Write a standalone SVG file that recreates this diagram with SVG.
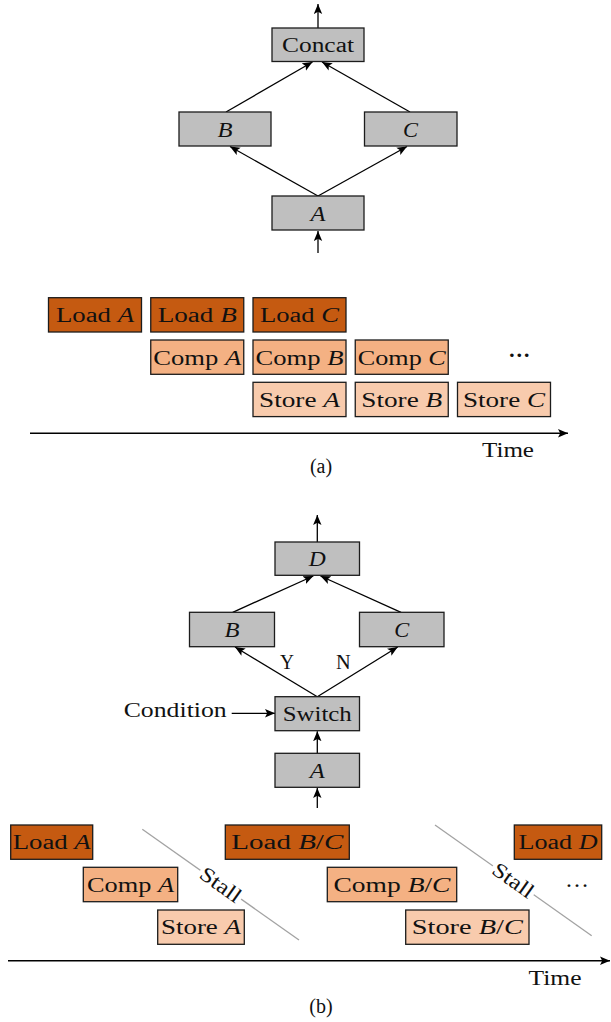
<svg xmlns="http://www.w3.org/2000/svg" width="611" height="1022" viewBox="0 0 611 1022">
<style>
  rect.b { stroke:#1c1c1c; stroke-width:1.3; }
  .g { fill:#BFBFBF; }
  .ld { fill:#C55A11; }
  .cp { fill:#F4B183; }
  .st { fill:#F8CBAD; }
  text { font-family:"Liberation Serif","Times New Roman",serif; font-size:20px; fill:#111; }
  .m { text-anchor:middle; }
  .i { font-style:italic; }
  .L { font-size:22px; }
  .e { stroke:#000; stroke-width:1.3; fill:none; }
  .ax { stroke:#000; stroke-width:1.4; fill:none; }
  .stall { stroke:#A3A3A3; stroke-width:1.3; fill:none; }
</style>
<defs>
  <marker id="ah" viewBox="-10 -4.5 10 9" refX="0" refY="0" markerWidth="10" markerHeight="9" markerUnits="userSpaceOnUse" orient="auto">
    <path d="M0,0 L-10,-4.2 L-7.8,0 L-10,4.2 Z" fill="#000"/>
  </marker>
</defs>

<!-- ========== (a) graph ========== -->
<g id="connectors-a">
  <line class="e" x1="318" y1="28" x2="318" y2="4" marker-end="url(#ah)"/>
  <line class="e" x1="226" y1="112" x2="312.5" y2="62" marker-end="url(#ah)"/>
  <line class="e" x1="410" y1="112" x2="322" y2="62" marker-end="url(#ah)"/>
  <line class="e" x1="318" y1="196" x2="230" y2="146.5" marker-end="url(#ah)"/>
  <line class="e" x1="318" y1="196" x2="407" y2="146.5" marker-end="url(#ah)"/>
  <line class="e" x1="318" y1="253" x2="318" y2="231" marker-end="url(#ah)"/>
</g>
<g id="a-concat">
  <rect class="b g" x="272" y="28" width="92" height="33.5"/>
  <text class="m" x="318" y="52" textLength="72" lengthAdjust="spacingAndGlyphs">Concat</text>
</g>
<g id="a-B">
  <rect class="b g" x="179" y="112" width="92" height="34"/>
  <text class="m i L" x="225" y="137" textLength="15" lengthAdjust="spacingAndGlyphs">B</text>
</g>
<g id="a-C">
  <rect class="b g" x="364.5" y="112" width="92.5" height="34"/>
  <text class="m i L" x="410.5" y="137" textLength="15" lengthAdjust="spacingAndGlyphs">C</text>
</g>
<g id="a-A">
  <rect class="b g" x="272" y="196" width="92" height="34"/>
  <text class="m i L" x="318" y="220.5" textLength="15" lengthAdjust="spacingAndGlyphs">A</text>
</g>

<!-- ========== (a) pipeline ========== -->
<g id="a-loadA"><rect class="b ld" x="48.5" y="297.7" width="93" height="34.3"/><text class="m" x="95" y="322.3" textLength="78" lengthAdjust="spacingAndGlyphs">Load <tspan class="i">A</tspan></text></g>
<g id="a-loadB"><rect class="b ld" x="150.75" y="297.7" width="93" height="34.3"/><text class="m" x="197.25" y="322.3" textLength="79" lengthAdjust="spacingAndGlyphs">Load <tspan class="i">B</tspan></text></g>
<g id="a-loadC"><rect class="b ld" x="253" y="297.7" width="93" height="34.3"/><text class="m" x="299.5" y="322.3" textLength="79" lengthAdjust="spacingAndGlyphs">Load <tspan class="i">C</tspan></text></g>

<g id="a-compA"><rect class="b cp" x="150.75" y="340" width="93" height="34.3"/><text class="m" x="197.25" y="364.6" textLength="88" lengthAdjust="spacingAndGlyphs">Comp <tspan class="i">A</tspan></text></g>
<g id="a-compB"><rect class="b cp" x="253" y="340" width="93" height="34.3"/><text class="m" x="299.5" y="364.6" textLength="88" lengthAdjust="spacingAndGlyphs">Comp <tspan class="i">B</tspan></text></g>
<g id="a-compC"><rect class="b cp" x="355.25" y="340" width="93" height="34.3"/><text class="m" x="401.75" y="364.6" textLength="88" lengthAdjust="spacingAndGlyphs">Comp <tspan class="i">C</tspan></text></g>

<g id="a-storeA"><rect class="b st" x="253" y="382.3" width="93" height="34.3"/><text class="m" x="299.5" y="406.9" textLength="81" lengthAdjust="spacingAndGlyphs">Store <tspan class="i">A</tspan></text></g>
<g id="a-storeB"><rect class="b st" x="355.25" y="382.3" width="93" height="34.3"/><text class="m" x="401.75" y="406.9" textLength="81" lengthAdjust="spacingAndGlyphs">Store <tspan class="i">B</tspan></text></g>
<g id="a-storeC"><rect class="b st" x="457.5" y="382.3" width="93" height="34.3"/><text class="m" x="504" y="406.9" textLength="82" lengthAdjust="spacingAndGlyphs">Store <tspan class="i">C</tspan></text></g>

<text class="m" x="519.3" y="356.5" style="font-size:22px;font-weight:bold">…</text>
<g id="axis-a">
  <line class="ax" x1="30" y1="433.3" x2="568" y2="433.3" marker-end="url(#ah)"/>
</g>
<text class="m" x="508" y="456.7" textLength="52" lengthAdjust="spacingAndGlyphs">Time</text>
<text class="m" x="321" y="473">(a)</text>

<!-- ========== (b) graph ========== -->
<g id="connectors-b">
  <line class="e" x1="317.3" y1="542" x2="317.3" y2="515" marker-end="url(#ah)"/>
  <line class="e" x1="232.7" y1="612.3" x2="313.3" y2="576" marker-end="url(#ah)"/>
  <line class="e" x1="401" y1="612.3" x2="320.5" y2="576" marker-end="url(#ah)"/>
  <line class="e" x1="317.3" y1="696.7" x2="235" y2="647" marker-end="url(#ah)"/>
  <line class="e" x1="317.3" y1="696.7" x2="397.7" y2="647" marker-end="url(#ah)"/>
  <line class="e" x1="231.7" y1="713.3" x2="275" y2="713.3" marker-end="url(#ah)"/>
  <line class="e" x1="317.3" y1="753.3" x2="317.3" y2="731.2" marker-end="url(#ah)"/>
  <line class="e" x1="317.3" y1="808" x2="317.3" y2="788" marker-end="url(#ah)"/>
</g>
<text class="m" x="287" y="669.3" textLength="14" lengthAdjust="spacingAndGlyphs">Y</text>
<text class="m" x="343.3" y="669.3" textLength="14.7" lengthAdjust="spacingAndGlyphs">N</text>
<text x="226.7" y="716.7" style="text-anchor:end" textLength="103" lengthAdjust="spacingAndGlyphs">Condition</text>

<g id="b-D">
  <rect class="b g" x="275" y="542" width="84.5" height="33.3"/>
  <text class="m i L" x="317.3" y="566" textLength="17" lengthAdjust="spacingAndGlyphs">D</text>
</g>
<g id="b-B">
  <rect class="b g" x="189.5" y="612.3" width="85" height="34.4"/>
  <text class="m i L" x="232" y="637" textLength="15" lengthAdjust="spacingAndGlyphs">B</text>
</g>
<g id="b-C">
  <rect class="b g" x="359.5" y="612.3" width="84.5" height="34.4"/>
  <text class="m i L" x="401.7" y="637" textLength="15" lengthAdjust="spacingAndGlyphs">C</text>
</g>
<g id="b-switch">
  <rect class="b g" x="275" y="696.7" width="84.5" height="34"/>
  <text class="m" x="317.3" y="721" textLength="69" lengthAdjust="spacingAndGlyphs">Switch</text>
</g>
<g id="b-A">
  <rect class="b g" x="275" y="753.3" width="84.5" height="34"/>
  <text class="m i L" x="317.3" y="777.5" textLength="15" lengthAdjust="spacingAndGlyphs">A</text>
</g>

<!-- ========== (b) pipeline ========== -->
<g id="stall-1">
  <line class="stall" x1="142.3" y1="829.3" x2="299" y2="940"/>
  <g transform="translate(220.7,884.7) rotate(35.3)">
    <rect x="-25" y="-9" width="50" height="18" fill="#fff"/>
    <text class="m" x="0" y="7" style="font-size:21px" textLength="46" lengthAdjust="spacingAndGlyphs">Stall</text>
  </g>
</g>
<g id="stall-2">
  <line class="stall" x1="435" y1="825" x2="591.7" y2="935.7"/>
  <g transform="translate(513.3,880.3) rotate(35.3)">
    <rect x="-25" y="-9" width="50" height="18" fill="#fff"/>
    <text class="m" x="0" y="7" style="font-size:21px" textLength="46" lengthAdjust="spacingAndGlyphs">Stall</text>
  </g>
</g>

<g id="b-loadA"><rect class="b ld" x="10.7" y="825" width="82" height="34.3"/><text class="m" x="51.7" y="849.2" textLength="78" lengthAdjust="spacingAndGlyphs">Load <tspan class="i">A</tspan></text></g>
<g id="b-compA"><rect class="b cp" x="83.3" y="867.3" width="94.4" height="34.4"/><text class="m" x="130.5" y="891.5" textLength="87" lengthAdjust="spacingAndGlyphs">Comp <tspan class="i">A</tspan></text></g>
<g id="b-storeA"><rect class="b st" x="157.7" y="910" width="86.6" height="34.3"/><text class="m" x="201" y="934.2" textLength="80" lengthAdjust="spacingAndGlyphs">Store <tspan class="i">A</tspan></text></g>
<g id="b-loadBC"><rect class="b ld" x="225.3" y="825" width="124" height="34.3"/><text class="m" x="287.3" y="849.2" textLength="112" lengthAdjust="spacingAndGlyphs">Load <tspan class="i">B</tspan>/<tspan class="i">C</tspan></text></g>
<g id="b-compBC"><rect class="b cp" x="327.3" y="867.3" width="129.4" height="34.4"/><text class="m" x="392" y="891.5" textLength="117" lengthAdjust="spacingAndGlyphs">Comp <tspan class="i">B</tspan>/<tspan class="i">C</tspan></text></g>
<g id="b-storeBC"><rect class="b st" x="405.7" y="910" width="123.3" height="34.3"/><text class="m" x="467.3" y="934.2" textLength="111" lengthAdjust="spacingAndGlyphs">Store <tspan class="i">B</tspan>/<tspan class="i">C</tspan></text></g>
<g id="b-loadD"><rect class="b ld" x="514.3" y="825" width="87.4" height="34.3"/><text class="m" x="558" y="849.2" textLength="79" lengthAdjust="spacingAndGlyphs">Load <tspan class="i">D</tspan></text></g>

<text class="m" x="577" y="886.5" style="font-size:24px">…</text>
<g id="axis-b">
  <line class="ax" x1="8" y1="960.7" x2="610" y2="960.7" marker-end="url(#ah)"/>
</g>
<text class="m" x="555" y="985" textLength="53" lengthAdjust="spacingAndGlyphs">Time</text>
<text class="m" x="321" y="1013">(b)</text>
</svg>
